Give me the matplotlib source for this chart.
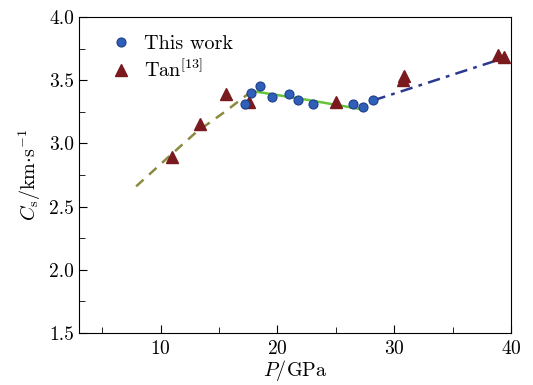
import numpy as np
import matplotlib
matplotlib.use('Agg')
import matplotlib.pyplot as plt
from matplotlib.ticker import MultipleLocator

plt.rcParams['font.family'] = 'cmr10'
plt.rcParams['mathtext.fontset'] = 'cm'
plt.rcParams['axes.formatter.use_mathtext'] = True

# This work
p_this = [17.26, 17.71, 18.51, 19.51, 20.95, 21.72, 23.05, 26.43, 27.29, 28.20]
cs_this = [3.31, 3.40, 3.45, 3.37, 3.39, 3.34, 3.31, 3.31, 3.29, 3.34]

# Tan[13]
p_tan = [11.0, 13.34, 15.63, 17.57, 24.97, 30.75, 30.8, 38.91, 39.43]
cs_tan = [2.89, 3.15, 3.39, 3.33, 3.33, 3.50, 3.53, 3.70, 3.686]

# 拟合线
p_fit1 = [7.9, 11.0, 13.06, 15.5, 17.75]
cs_fit1 = [2.66, 2.92, 3.09, 3.25, 3.41]
p_fit2 = [17.77, 22.5, 27.2]
cs_fit2 = [3.415, 3.345, 3.27]
p_fit3 = [28.2, 39.9]
cs_fit3 = [3.34, 3.69]

fig = plt.figure(figsize=[5.33, 3.85], dpi=100)
ax = fig.add_axes([0.148, 0.135, 0.811, 0.821])

ax.plot(p_fit1, cs_fit1, '--', color='#8b8a3f', lw=1.8, dashes=(4, 3), zorder=2)
ax.plot(p_fit2, cs_fit2, '-', color='#66c43c', lw=1.8, zorder=2)
ax.plot(p_fit3, cs_fit3, '-.', color='#2b3990', lw=1.8, dashes=(5, 2.5, 1.5, 2.5), zorder=2)

ax.plot(p_tan, cs_tan, '^', color='#7a1a1e', ms=8, mec='#7a1a1e', ls='none',
        label='Tan$^{[13]}$', zorder=3)
ax.plot(p_this, cs_this, 'o', color='#2f5fb8', ms=6.5, mec='#1d3f8a', mew=0.8,
        ls='none', label='This work', zorder=4)

ax.set_xlim(3, 40)
ax.set_ylim(1.5, 4.0)
ax.xaxis.set_major_locator(MultipleLocator(10))
ax.xaxis.set_minor_locator(MultipleLocator(5))
ax.yaxis.set_major_locator(MultipleLocator(0.5))
ax.yaxis.set_minor_locator(MultipleLocator(0.25))
ax.tick_params(which='both', direction='in', labelsize=14)
ax.tick_params(which='major', length=6)
ax.tick_params(which='minor', length=4)
ax.tick_params(axis='x', pad=5)
ax.set_yticklabels(['%.1f' % v for v in ax.get_yticks()])

ax.set_xlabel(r'$P/{\rm GPa}$', fontsize=14.5, labelpad=0)
ax.set_ylabel(r'$C_{\rm s}/{\rm km}{\cdot}{\rm s}^{-1}$', fontsize=14.5, labelpad=4)

handles, labels = ax.get_legend_handles_labels()
ax.legend(handles[::-1], labels[::-1], loc='upper left', frameon=False,
          fontsize=14.5, handletextpad=-0.05, borderaxespad=0.5, labelspacing=0.3,
          handlelength=2.4)

fig.savefig('out.png', dpi=100)
